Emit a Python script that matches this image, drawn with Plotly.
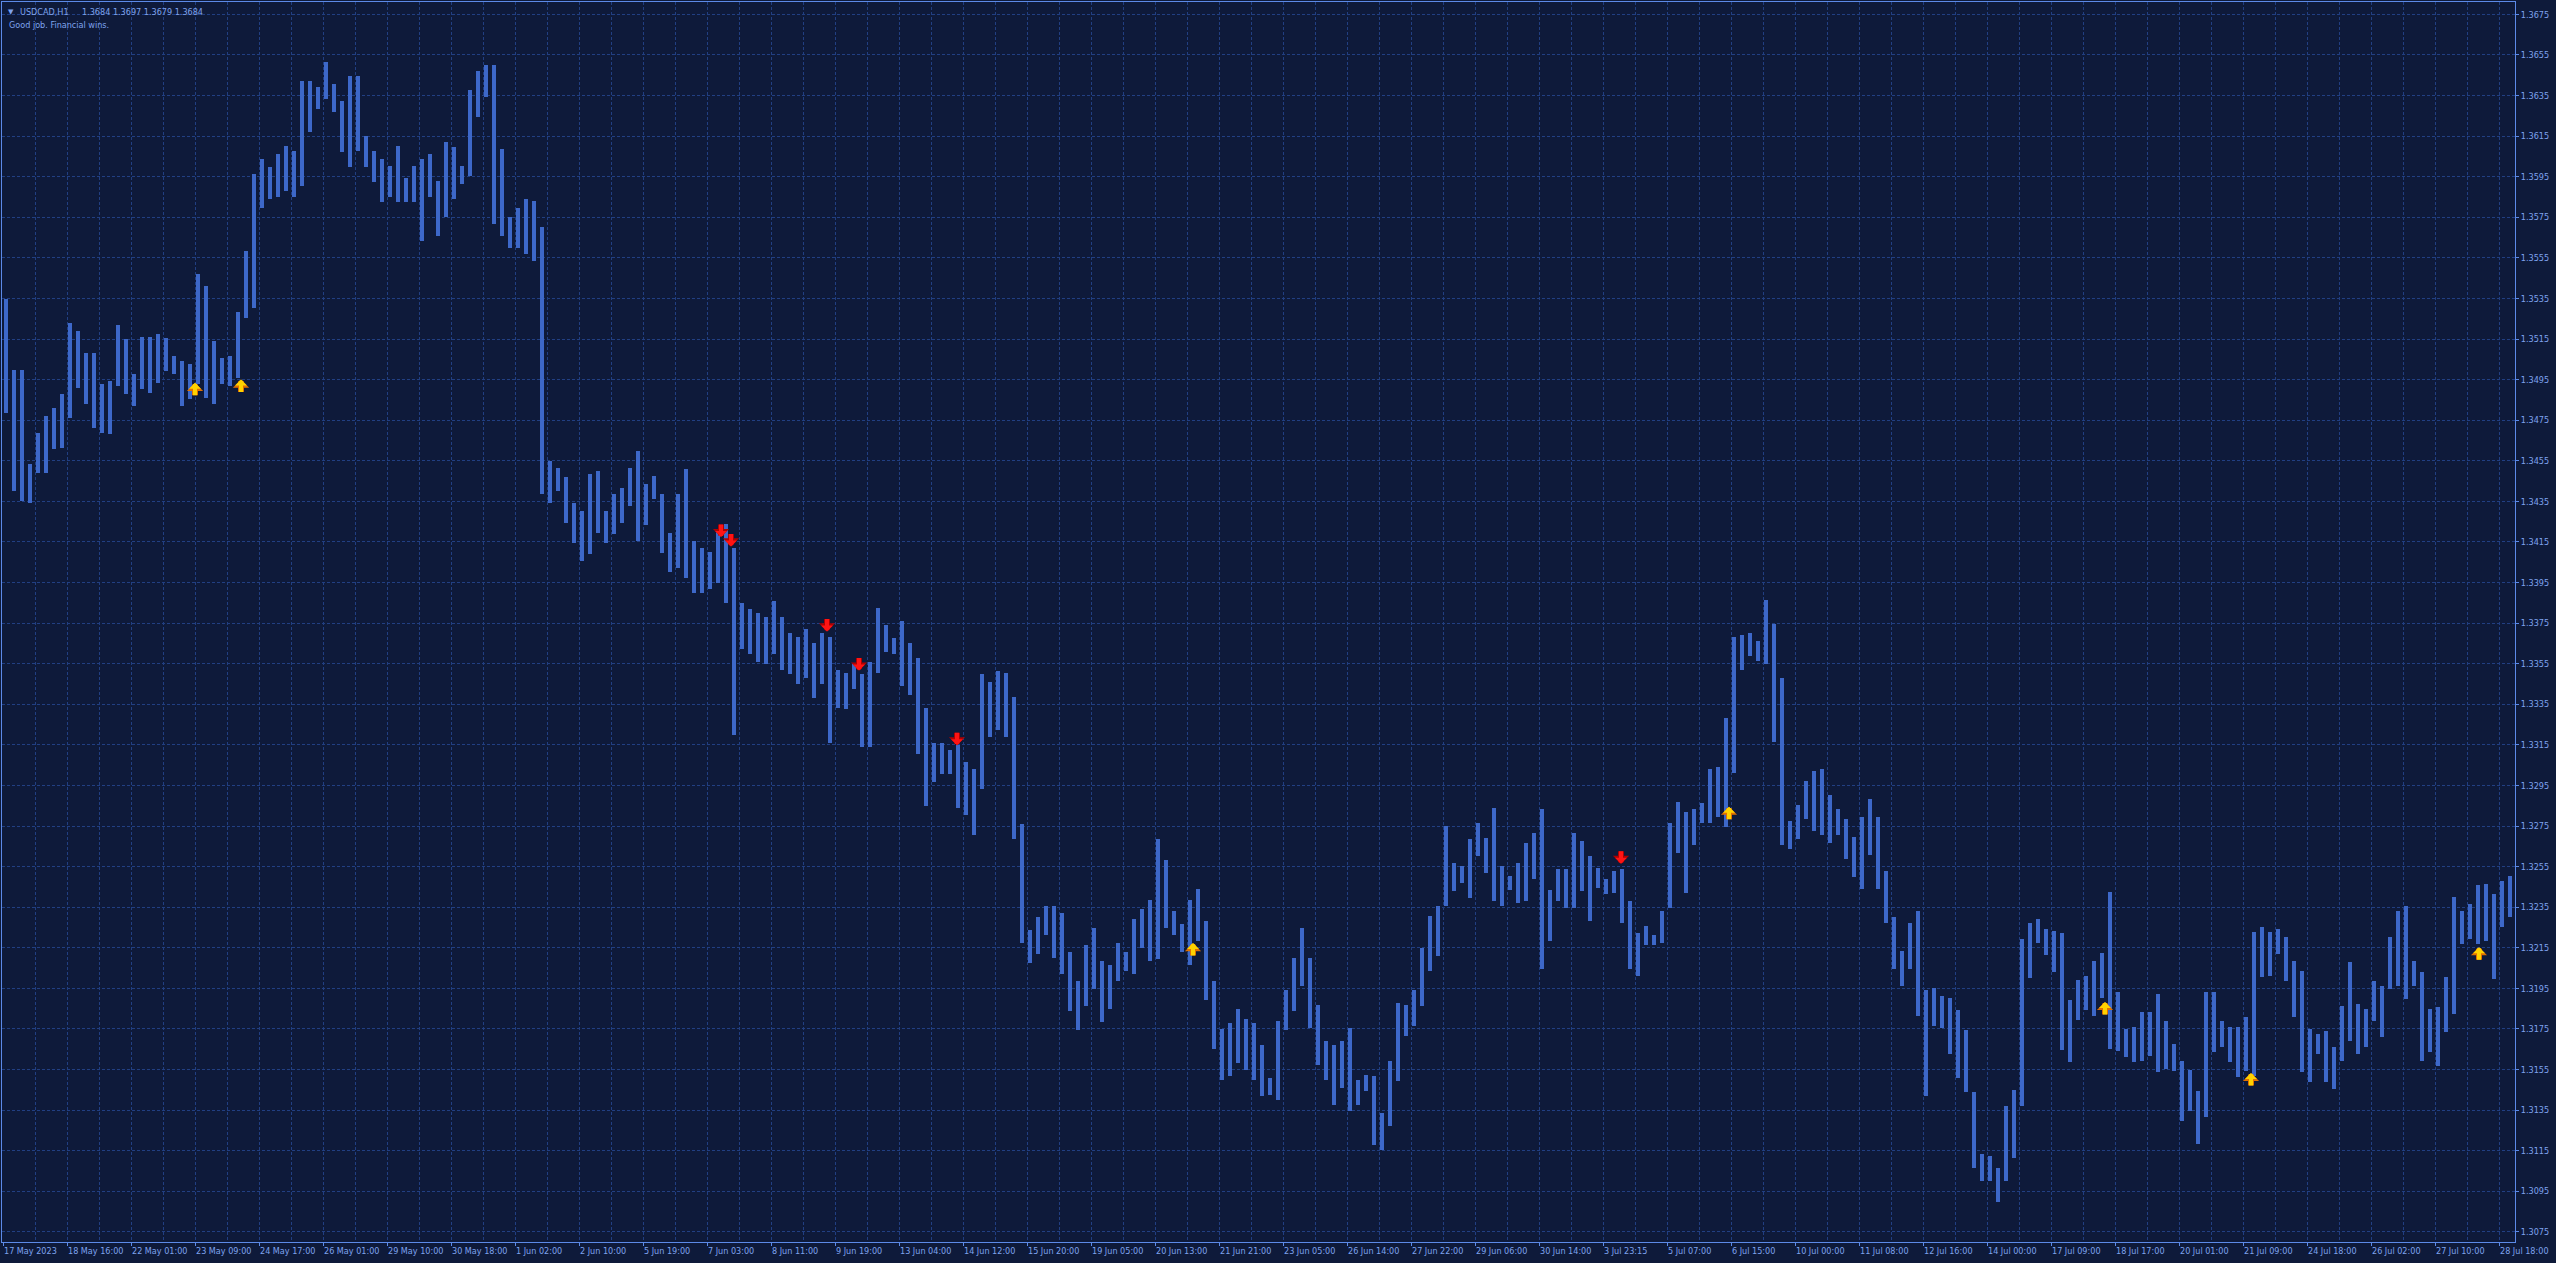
import plotly.graph_objects as go

# ---------------- data ----------------
symbol_text = "USDCAD,H1"
last_bar_ohlc = ["1.3684", "1.3697", "1.3679", "1.3684"]
comment_text = "Good job. Financial wins."

bars_per_segment = 4  # each entry below spans four H1 bars (high / low of those bars)

seg_highs = [
    1.35346, 1.34996, 1.34996, 1.34532, 1.34689, 1.34771, 1.34812, 1.34878, 1.35231, 1.35190,
    1.35083, 1.35083, 1.34927, 1.34943, 1.35220, 1.35149, 1.34976, 1.35160, 1.35160, 1.35174,
    1.35157, 1.35067, 1.35042, 1.35026, 1.35470, 1.35412, 1.35141, 1.35059, 1.35067, 1.35281,
    1.35585, 1.35963, 1.36037, 1.35996, 1.36061, 1.36103, 1.36078, 1.36423, 1.36423, 1.36390,
    1.36514, 1.36407, 1.36324, 1.36448, 1.36448, 1.36152, 1.36078, 1.36037, 1.36004, 1.36103,
    1.35946, 1.36004, 1.36037, 1.36061, 1.35930, 1.36119, 1.36094, 1.36004, 1.36377, 1.36472,
    1.36502, 1.36502, 1.36086, 1.35749, 1.35798, 1.35839, 1.35831, 1.35700, 1.34549, 1.34516,
    1.34470, 1.34343, 1.34302, 1.34483, 1.34500, 1.34302, 1.34385, 1.34417, 1.34516, 1.34598,
    1.34434, 1.34475, 1.34385, 1.34195, 1.34385, 1.34508, 1.34154, 1.34120, 1.34100, 1.34200,
    1.34240, 1.34120, 1.33850, 1.33820, 1.33800, 1.33780, 1.33860, 1.33780, 1.33700, 1.33680,
    1.33720, 1.33650, 1.33700, 1.33680, 1.33520, 1.33502, 1.33551, 1.33497, 1.33560, 1.33825,
    1.33743, 1.33679, 1.33761, 1.33652, 1.33579, 1.33333, 1.33159, 1.33159, 1.33123, 1.33150,
    1.33068, 1.33032, 1.33497, 1.33460, 1.33515, 1.33506, 1.33387, 1.32758, 1.32239, 1.32303,
    1.32357, 1.32357, 1.32321, 1.32129, 1.31984, 1.32166, 1.32248, 1.32084, 1.32066, 1.32175,
    1.32129, 1.32294, 1.32339, 1.32385, 1.32685, 1.32585, 1.32330, 1.32266, 1.32385, 1.32439,
    1.32284, 1.31984, 1.31750, 1.31780, 1.31850, 1.31800, 1.31780, 1.31673, 1.31508, 1.31788,
    1.31944, 1.32100, 1.32248, 1.32100, 1.31870, 1.31689, 1.31673, 1.31689, 1.31755, 1.31500,
    1.31525, 1.31517, 1.31336, 1.31591, 1.31878, 1.31870, 1.31944, 1.32150, 1.32306, 1.32355,
    1.32750, 1.32569, 1.32552, 1.32684, 1.32766, 1.32692, 1.32840, 1.32552, 1.32503, 1.32569,
    1.32668, 1.32717, 1.32832, 1.32437, 1.32536, 1.32536, 1.32717, 1.32676, 1.32602, 1.32544,
    1.32487, 1.32528, 1.32536, 1.32380, 1.32224, 1.32257, 1.32215, 1.32331, 1.32766, 1.32870,
    1.32820, 1.32835, 1.32865, 1.33033, 1.33043, 1.33280, 1.33680, 1.33692, 1.33700, 1.33661,
    1.33865, 1.33746, 1.33478, 1.32776, 1.32855, 1.32974, 1.33023, 1.33033, 1.32904, 1.32835,
    1.32785, 1.32696, 1.32795, 1.32884, 1.32795, 1.32528, 1.32300, 1.32132, 1.32271, 1.32330,
    1.31944, 1.31954, 1.31914, 1.31904, 1.31845, 1.31746, 1.31439, 1.31132, 1.31122, 1.31063,
    1.31370, 1.31449, 1.32191, 1.32271, 1.32290, 1.32241, 1.32231, 1.32221, 1.31894, 1.31993,
    1.32013, 1.32083, 1.32122, 1.32424, 1.31931, 1.31750, 1.31758, 1.31832, 1.31832, 1.31922,
    1.31791, 1.31676, 1.31594, 1.31548, 1.31446, 1.31931, 1.31931, 1.31791, 1.31758, 1.31758,
    1.31807, 1.32227, 1.32251, 1.32227, 1.32243, 1.32202, 1.32087, 1.32038, 1.31750, 1.31725,
    1.31742, 1.31659, 1.31865, 1.32079, 1.31873, 1.31848, 1.31988, 1.31963, 1.32202, 1.32333,
    1.32358, 1.32087, 1.32029, 1.31848, 1.31857, 1.32005, 1.32399, 1.32333, 1.32366, 1.32457,
    1.32465, 1.32416, 1.32481, 1.32506,
]

seg_lows = [
    1.34787, 1.34401, 1.34352, 1.34343, 1.34491, 1.34491, 1.34606, 1.34615, 1.34763, 1.34911,
    1.34828, 1.34713, 1.34689, 1.34680, 1.34919, 1.34878, 1.34820, 1.34902, 1.34886, 1.34935,
    1.34993, 1.34976, 1.34820, 1.34853, 1.34927, 1.34861, 1.34828, 1.34927, 1.34919, 1.34960,
    1.35256, 1.35305, 1.35798, 1.35839, 1.35848, 1.35881, 1.35848, 1.35905, 1.36168, 1.36283,
    1.36333, 1.36267, 1.36070, 1.35996, 1.36078, 1.35996, 1.35922, 1.35823, 1.35848, 1.35823,
    1.35823, 1.35823, 1.35634, 1.35848, 1.35659, 1.35749, 1.35839, 1.35913, 1.35955, 1.36242,
    1.36341, 1.35716, 1.35659, 1.35601, 1.35601, 1.35568, 1.35535, 1.34385, 1.34343, 1.34401,
    1.34245, 1.34146, 1.34056, 1.34089, 1.34195, 1.34146, 1.34187, 1.34245, 1.34327, 1.34154,
    1.34236, 1.34360, 1.34097, 1.34000, 1.34023, 1.33973, 1.33900, 1.33900, 1.33920, 1.33950,
    1.33850, 1.33200, 1.33620, 1.33600, 1.33560, 1.33550, 1.33600, 1.33520, 1.33500, 1.33450,
    1.33480, 1.33380, 1.33450, 1.33160, 1.33330, 1.33329, 1.33424, 1.33141, 1.33141, 1.33506,
    1.33606, 1.33597, 1.33442, 1.33396, 1.33105, 1.32850, 1.32968, 1.33004, 1.33004, 1.32840,
    1.32804, 1.32704, 1.32932, 1.33187, 1.33223, 1.33187, 1.32685, 1.32175, 1.32075, 1.32120,
    1.32211, 1.32102, 1.32020, 1.31838, 1.31747, 1.31865, 1.31947, 1.31783, 1.31847, 1.31984,
    1.32038, 1.32020, 1.32148, 1.32084, 1.32093, 1.32248, 1.32211, 1.32129, 1.32066, 1.32184,
    1.31892, 1.31650, 1.31500, 1.31520, 1.31580, 1.31550, 1.31500, 1.31418, 1.31426, 1.31402,
    1.31747, 1.31837, 1.31961, 1.31755, 1.31574, 1.31500, 1.31377, 1.31459, 1.31344, 1.31377,
    1.31443, 1.31180, 1.31155, 1.31270, 1.31492, 1.31714, 1.31763, 1.31862, 1.32035, 1.32109,
    1.32355, 1.32429, 1.32470, 1.32396, 1.32602, 1.32520, 1.32380, 1.32355, 1.32437, 1.32372,
    1.32380, 1.32487, 1.32043, 1.32183, 1.32380, 1.32347, 1.32347, 1.32429, 1.32281, 1.32446,
    1.32413, 1.32421, 1.32273, 1.32043, 1.32010, 1.32166, 1.32166, 1.32174, 1.32347, 1.32618,
    1.32420, 1.32657, 1.32766, 1.32766, 1.32795, 1.32746, 1.33013, 1.33518, 1.33587, 1.33562,
    1.33548, 1.33162, 1.32657, 1.32637, 1.32686, 1.32785, 1.32726, 1.32706, 1.32667, 1.32706,
    1.32587, 1.32498, 1.32439, 1.32607, 1.32439, 1.32271, 1.32043, 1.31964, 1.32043, 1.31815,
    1.31419, 1.31766, 1.31756, 1.31627, 1.31508, 1.31439, 1.31063, 1.31003, 1.31003, 1.30895,
    1.31003, 1.31112, 1.31370, 1.32003, 1.32172, 1.32112, 1.32033, 1.31647, 1.31588, 1.31795,
    1.31845, 1.31815, 1.31904, 1.31651, 1.31643, 1.31610, 1.31585, 1.31594, 1.31618, 1.31536,
    1.31553, 1.31544, 1.31298, 1.31347, 1.31183, 1.31314, 1.31635, 1.31659, 1.31585, 1.31511,
    1.31544, 1.31520, 1.32005, 1.32013, 1.32120, 1.31988, 1.31807, 1.31536, 1.31487, 1.31627,
    1.31487, 1.31454, 1.31594, 1.31692, 1.31627, 1.31659, 1.31791, 1.31709, 1.31947, 1.31963,
    1.31898, 1.31963, 1.31594, 1.31635, 1.31569, 1.31733, 1.31824, 1.32169, 1.32194, 1.32169,
    1.32185, 1.31996, 1.32251, 1.32301,
]

# time-axis labels: one every 32 H1 bars
x_tick_labels = [
    "17 May 2023", "18 May 16:00", "22 May 01:00", "23 May 09:00", "24 May 17:00",
    "26 May 01:00", "29 May 10:00", "30 May 18:00", "1 Jun 02:00", "2 Jun 10:00",
    "5 Jun 19:00", "7 Jun 03:00", "8 Jun 11:00", "9 Jun 19:00", "13 Jun 04:00",
    "14 Jun 12:00", "15 Jun 20:00", "19 Jun 05:00", "20 Jun 13:00", "21 Jun 21:00",
    "23 Jun 05:00", "26 Jun 14:00", "27 Jun 22:00", "29 Jun 06:00", "30 Jun 14:00",
    "3 Jul 23:15", "5 Jul 07:00", "6 Jul 15:00", "10 Jul 00:00", "11 Jul 08:00",
    "12 Jul 16:00", "14 Jul 00:00", "17 Jul 09:00", "18 Jul 17:00", "20 Jul 01:00",
    "21 Jul 09:00", "24 Jul 18:00", "26 Jul 02:00", "27 Jul 10:00", "28 Jul 18:00",
]
bars_per_label = 32

y_tick_values = [
    1.3075, 1.3095, 1.3115, 1.3135, 1.3155, 1.3175, 1.3195, 1.3215, 1.3235, 1.3255,
    1.3275, 1.3295, 1.3315, 1.3335, 1.3355, 1.3375, 1.3395, 1.3415, 1.3435, 1.3455,
    1.3475, 1.3495, 1.3515, 1.3535, 1.3555, 1.3575, 1.3595, 1.3615, 1.3635, 1.3655, 1.3675,
]
y_tick_labels = [
    "1.3075", "1.3095", "1.3115", "1.3135", "1.3155", "1.3175", "1.3195", "1.3215", "1.3235", "1.3255",
    "1.3275", "1.3295", "1.3315", "1.3335", "1.3355", "1.3375", "1.3395", "1.3415", "1.3435", "1.3455",
    "1.3475", "1.3495", "1.3515", "1.3535", "1.3555", "1.3575", "1.3595", "1.3615", "1.3635", "1.3655", "1.3675",
]

# signal arrows: bar index and the price at the arrow's tip
buy_bars = [96, 119, 595, 863, 1051, 1124, 1238]
buy_tip_prices = [1.34934, 1.34950, 1.32173, 1.32845, 1.31883, 1.31533, 1.32153]
sell_bars = [359, 364, 412, 428, 477, 809]
sell_tip_prices = [1.34174, 1.34128, 1.33709, 1.33516, 1.33148, 1.32564]

# ---------------- style ----------------
bg = "#0e1a3a"
bar_color = "#3d68c9"
grid_color = "#213f82"
frame_color = "#5c8ae8"
text_color = "#7ea3ee"
buy_color = "#ffd200"
buy_edge = "#e07000"
sell_color = "#ff1414"
sell_edge = "#b00000"
font_family = "DejaVu Sans Condensed, Liberation Sans Narrow, Tahoma, sans-serif"

W, H = 2556, 1263
ml, mr, mt, mb = 2, 41, 2, 21

seg_x = [bars_per_segment * j + (bars_per_segment - 1) / 2 for j in range(len(seg_highs))]
seg_range = [h - l for h, l in zip(seg_highs, seg_lows)]
x_tick_vals = [bars_per_label * k for k in range(len(x_tick_labels))]

fig = go.Figure()
fig.add_trace(go.Bar(
    x=seg_x, y=seg_range, base=seg_lows, width=2.2,
    marker=dict(color=bar_color, line=dict(width=0)),
    hoverinfo="skip", showlegend=False,
))


def arrow(bx, py, direction, fill, edge):
    # an outlined thick arrow: a slightly larger dark copy under the coloured one
    out = []
    for col, w, size in ((edge, 6, 0.45), (fill, 4, 0.5)):
        out.append(dict(
            x=bx, y=py, xref="x", yref="y", text="", showarrow=True,
            ax=0, ay=14 * direction, axref="pixel", ayref="pixel",
            arrowhead=1, arrowsize=size, arrowwidth=w, arrowcolor=col, standoff=0,
        ))
    return out


arrow_annotations = []
for bx, py in zip(buy_bars, buy_tip_prices):
    arrow_annotations += arrow(bx, py, 1, buy_color, buy_edge)
for bx, py in zip(sell_bars, sell_tip_prices):
    arrow_annotations += arrow(bx, py, -1, sell_color, sell_edge)

header_annotations = [
    dict(xref="paper", yref="paper", x=0.0, y=1.0, xshift=4, yshift=-4,
         xanchor="left", yanchor="top", showarrow=False,
         text="\u25bc", font=dict(family="DejaVu Sans", size=7, color=text_color)),
    dict(xref="paper", yref="paper", x=0.0, y=1.0, xshift=16, yshift=-3,
         xanchor="left", yanchor="top", showarrow=False,
         text=symbol_text, font=dict(family=font_family, size=9, color=text_color)),
    dict(xref="paper", yref="paper", x=0.0, y=1.0, xshift=78, yshift=-3,
         xanchor="left", yanchor="top", showarrow=False,
         text=" ".join(last_bar_ohlc), font=dict(family=font_family, size=9, color=text_color)),
    dict(xref="paper", yref="paper", x=0.0, y=1.0, xshift=5, yshift=-16,
         xanchor="left", yanchor="top", showarrow=False,
         text=comment_text, font=dict(family=font_family, size=9, color=text_color)),
]

n_bars = bars_per_segment * len(seg_highs)
fig.update_layout(
    width=W, height=H,
    margin=dict(l=ml, r=mr, t=mt, b=mb, pad=0),
    paper_bgcolor=bg, plot_bgcolor=bg,
    bargap=0,
    font=dict(family=font_family, size=9, color=text_color),
    xaxis=dict(
        range=[-0.5, n_bars + 0.0],
        tickmode="array", tickvals=x_tick_vals, ticktext=x_tick_labels,
        tickangle=0,
        ticks="outside", ticklen=3, tickcolor=frame_color,
        ticklabelposition="outside right",
        tickfont=dict(family=font_family, size=9, color=text_color),
        showline=True, linecolor=frame_color, linewidth=1, mirror=True,
        showgrid=True, gridcolor=grid_color, gridwidth=1, griddash="3px,2px",
        minor=dict(tickmode="linear", tick0=0, dtick=bars_per_label // 2,
                   showgrid=True, gridcolor=grid_color, gridwidth=1, griddash="3px,2px", ticks=""),
        zeroline=False, fixedrange=True,
    ),
    yaxis=dict(
        side="right",
        range=[1.30700, 1.36811],
        tickmode="array", tickvals=y_tick_values, ticktext=y_tick_labels,
        ticks="outside", ticklen=3, tickcolor=frame_color,
        tickfont=dict(family=font_family, size=9, color=text_color),
        showline=True, linecolor=frame_color, linewidth=1, mirror=True,
        showgrid=True, gridcolor=grid_color, gridwidth=1, griddash="3px,2px",
        zeroline=False, fixedrange=True,
    ),
    annotations=header_annotations + arrow_annotations,
)

fig.write_html(
    "out.html",
    config={"displayModeBar": False},
    post_script="document.body.style.margin='0';document.body.style.overflow='hidden';",
)
